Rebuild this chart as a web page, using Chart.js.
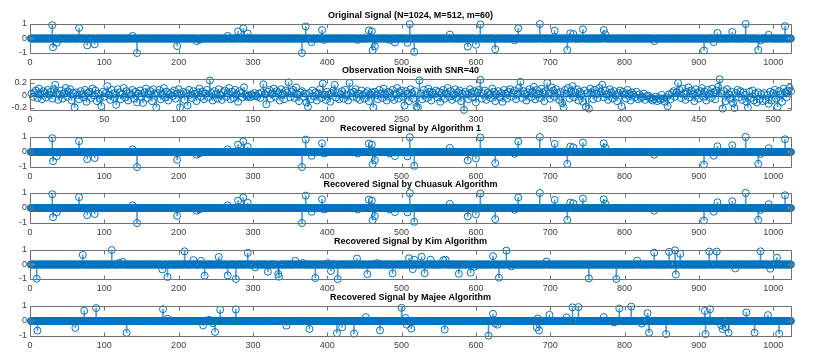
<!DOCTYPE html>
<html>
<head>
<meta charset="utf-8">
<script src="https://cdn.jsdelivr.net/npm/chart.js@4.4.0/dist/chart.umd.min.js"></script>
<style>
    body { margin: 0; background: #fff; }
    #wrap { position: relative; width: 827px; height: 364px; overflow: hidden; }
    #wrap canvas { position: absolute; left: 0; }
</style>
</head>
<body>
<div id="wrap"></div>
<script>
// --- data ---
const signalLength = 1024;
const xTicksSignal = [0, 100, 200, 300, 400, 500, 600, 700, 800, 900, 1000];
const xTicksNoise = [0, 50, 100, 150, 200, 250, 300, 350, 400, 450, 500];
const yTicksSignal = [-1, 0, 1];
const yTicksNoise = [-0.2, 0, 0.2];

const titles = [
    'Original Signal (N=1024, M=512, m=60)',
    'Observation Noise with SNR=40',
    'Recovered Signal by Algorithm 1',
    'Recovered Signal by Chuasuk Algorithm',
    'Recovered Signal by Kim Algorithm',
    'Recovered Signal by Majee Algorithm'
];

// nonzero entries of the sparse signal (index, value)
const origIdx = [30, 31, 36, 66, 77, 87, 138, 144, 198, 224, 228, 266, 280, 287, 293, 366, 371, 379, 393, 396,
    441, 456, 460, 461, 464, 484, 491, 508, 511, 517, 565, 589, 600, 606, 626, 652, 657, 686, 706, 723,
    727, 731, 744, 772, 774, 840, 907, 920, 925, 945, 963, 980, 983, 994, 1016];
const origVal = [0.92, -0.61, -0.29, 0.72, -0.47, -0.40, 0.18, -1.00, -0.52, -0.18, -0.10, 0.18, 0.49, 0.70, 0.34, -1.00, 0.83, -0.25, 0.58, -0.10,
    -0.10, 0.56, 0.49, -0.81, -0.54, -0.10, -0.27, -0.29, 0.99, -0.92, 0.27, -0.56, -0.43, 0.97, -0.74, -0.12, 0.70, 1.00, 0.54, -0.79,
    0.36, 0.31, 0.63, 0.58, 0.29, -0.18, -0.83, -0.25, 0.38, 0.45, 1.00, -0.79, -0.13, 0.25, 0.85];

// Algorithm 1 and Chuasuk look identical to the original in the figure
const alg1Idx = origIdx.slice();
const alg1Val = origVal.slice();
const chuasukIdx = origIdx.slice();
const chuasukVal = origVal.slice();

const kimIdx = [9, 71, 110, 120, 125, 178, 185, 208, 220, 230, 235, 254, 266, 277, 293, 303, 320, 334, 335, 357,
    367, 384, 401, 405, 414, 440, 454, 467, 488, 510, 515, 517, 527, 531, 539, 556, 559, 577, 593, 598,
    623, 631, 641, 648, 695, 752, 789, 817, 840, 860, 868, 869, 875, 914, 924, 949, 983, 996, 1005];
const kimVal = [-0.98, 0.66, 1.00, 0.11, 0.18, -0.34, -0.86, 0.91, 0.30, 0.25, -0.77, 0.52, -0.75, -1.00, 0.80, -0.20, -0.50, -0.66, -0.84, 0.25,
    0.10, -0.93, 0.09, -0.45, -1.00, 0.41, -0.66, 0.09, -0.61, 0.43, -0.32, 0.33, 0.53, -0.60, 0.33, 0.29, 0.33, -0.64, -0.56, -0.15,
    0.58, -0.91, 0.96, -0.13, 0.20, -0.96, -1.00, 0.27, 0.82, 0.87, 0.98, -0.69, 0.73, 0.89, 0.89, -0.27, 0.91, -0.29, 0.47];

const majeeIdx = [10, 61, 73, 89, 130, 179, 185, 233, 241, 246, 249, 256, 277, 345, 376, 413, 420, 436, 452, 471,
    500, 505, 507, 513, 558, 617, 623, 626, 629, 682, 683, 685, 699, 722, 730, 738, 772, 786, 793, 809,
    823, 831, 833, 856, 908, 909, 915, 930, 932, 936, 940, 964, 975, 993, 1008];
const majeeVal = [-0.64, -0.46, 0.68, 0.86, -0.79, 0.79, 0.15, -0.29, 0.08, -0.15, -0.73, 0.75, 0.77, -0.31, -0.53, -0.81, -0.42, -0.84, 0.26, -0.62,
    0.88, 0.20, -0.24, -0.51, -0.57, -0.98, 0.48, -0.15, -0.24, -0.43, 0.17, -0.63, 0.41, 0.24, 0.91, 0.93, 0.26, -0.10, 0.83, 0.96,
    -0.17, 0.52, -0.78, -0.87, 0.67, -0.87, 0.78, -0.28, -0.54, -0.41, -0.78, 0.57, -0.78, 0.39, -0.85];

// observation noise, 512 samples
const noiseVal = [
    0.03,-0.02,0.05,0.08,-0.04,0.11,0.02,-0.06,0.07,0.04,-0.03,0.09,0.01,0.06,-0.05,0.10,
    0.17,0.04,-0.07,0.02,0.08,-0.05,0.03,0.12,-0.02,0.06,0.10,-0.08,0.04,-0.19,0.05,0.01,
    -0.06,0.07,0.02,-0.03,0.09,-0.10,0.04,0.06,-0.04,0.11,0.00,0.08,-0.09,0.03,-0.05,-0.17,
    0.06,-0.02,0.04,0.15,0.01,-0.07,0.09,0.03,-0.04,-0.15,0.10,0.05,-0.06,0.02,0.12,-0.03,
    0.07,-0.08,0.04,0.01,0.09,-0.05,0.06,-0.11,0.03,0.08,-0.02,-0.12,0.05,0.11,-0.04,0.02,
    0.07,-0.09,0.10,0.03,-0.19,0.04,0.09,-0.06,0.01,0.12,-0.03,0.06,-0.08,0.02,0.05,-0.01,
    0.08,-0.05,0.03,0.10,-0.19,0.02,0.06,-0.07,0.04,-0.16,0.09,0.01,-0.04,0.07,0.03,-0.09,
    0.05,0.11,-0.02,0.06,-0.06,0.03,0.09,-0.03,0.24,0.04,-0.08,0.07,0.02,-0.05,0.10,0.01,
    -0.07,0.05,0.08,-0.02,0.03,0.12,-0.06,0.06,-0.04,0.09,0.02,-0.10,0.07,0.04,-0.03,0.13,
    0.01,-0.02,0.00,-0.03,0.02,-0.01,0.04,0.00,-0.02,0.03,-0.04,0.05,0.18,0.02,-0.14,0.06,
    0.09,-0.05,0.03,0.11,-0.02,0.07,0.04,-0.08,0.10,0.02,-0.06,0.08,0.05,0.21,-0.03,0.06,
    0.09,-0.04,0.13,0.02,-0.09,0.05,0.07,-0.02,0.03,-0.11,-0.18,0.04,-0.06,0.08,-0.01,0.05,
    -0.08,0.03,0.10,-0.04,0.19,0.01,-0.07,0.06,0.02,-0.10,0.04,0.08,0.17,-0.03,0.05,-0.06,
    0.02,0.07,-0.05,0.09,0.01,-0.08,0.20,0.04,-0.02,0.06,0.10,-0.04,0.03,-0.07,0.08,0.01,
    -0.05,0.04,0.07,-0.09,0.02,0.05,-0.19,0.06,0.01,-0.06,0.09,0.03,-0.04,0.11,0.02,-0.08,
    0.06,0.04,-0.03,0.09,-0.07,0.02,0.12,-0.05,0.05,0.08,-0.02,-0.16,0.07,0.03,-0.09,0.10,
    0.04,-0.05,0.07,-0.18,-0.19,0.24,0.03,-0.06,0.09,0.01,-0.04,0.11,0.06,-0.08,0.05,0.02,
    0.08,-0.03,0.06,-0.10,0.04,0.09,-0.05,0.03,0.12,-0.02,0.07,-0.07,0.01,0.10,-0.04,0.05,
    0.08,-0.09,0.03,-0.23,0.06,0.02,-0.06,0.10,0.04,-0.03,0.07,-0.11,0.05,0.09,0.25,-0.05,
    0.03,0.08,-0.07,0.05,0.01,-0.04,0.11,0.06,-0.09,0.02,0.07,-0.03,0.04,-0.10,0.09,0.03,
    -0.05,0.06,0.10,-0.02,0.04,0.08,-0.06,0.02,0.12,0.22,-0.04,0.07,0.03,-0.08,0.05,0.10,
    -0.03,0.06,0.14,-0.06,0.09,0.02,-0.04,0.11,0.05,-0.09,0.07,0.20,0.03,-0.05,0.13,0.08,
    -0.02,0.10,0.04,-0.07,0.06,-0.12,-0.19,0.09,0.03,0.12,-0.05,0.07,0.15,-0.03,0.05,0.10,
    -0.08,0.06,0.02,-0.10,0.08,-0.18,0.04,-0.21,0.11,0.05,-0.06,0.09,0.03,-0.04,0.12,0.06,
    0.17,-0.03,0.08,0.02,-0.07,0.10,0.05,-0.05,0.07,0.01,-0.09,0.04,0.08,-0.17,0.06,0.02,
    -0.05,0.09,0.03,-0.08,0.05,0.01,-0.03,0.06,-0.06,0.02,-0.04,-0.02,0.03,-0.07,-0.01,0.00,
    -0.05,-0.03,-0.08,-0.06,-0.02,-0.09,-0.04,-0.07,0.01,-0.05,-0.10,-0.03,-0.17,0.02,-0.06,0.04,
    0.07,-0.02,0.05,0.20,0.09,-0.04,0.11,0.03,-0.07,0.06,0.13,-0.03,0.08,0.02,-0.09,0.10,
    0.04,-0.05,0.07,0.12,-0.02,0.06,-0.08,0.09,0.03,-0.04,0.11,0.05,-0.06,0.08,0.14,0.26,
    0.03,-0.21,0.07,-0.09,0.10,0.02,-0.05,0.06,-0.12,-0.20,0.04,0.09,-0.03,0.07,-0.07,0.05,
    0.01,-0.10,-0.19,0.06,-0.04,0.08,-0.08,0.03,-0.11,0.05,-0.06,0.02,-0.09,0.04,-0.07,0.01,
    -0.13,0.06,-0.08,0.04,0.09,-0.05,-0.18,0.07,0.02,-0.10,0.11,0.05,-0.03,0.08,0.12,0.07
];

// --- drawing ---
const BLUE = '#0072BD';
const STEM = 'rgba(0, 114, 189, 0.7)';
const FONT = "'Liberation Sans', Arial, Helvetica, sans-serif";
const TITLE_H = 18;
const XAXIS_H = 16;

// plot-area top and height for each subplot (pixels)
const panelTop = [24, 79, 137, 193, 250, 306];
const panelHeight = [29, 31, 30, 30, 29, 30];

// build a dense series from sparse (index, value) pairs
function denseSignal(idx, val) {
    const y = new Array(signalLength).fill(0);
    idx.forEach((k, i) => { y[k - 1] = val[i]; });
    return y;
}

const panels = [
    { values: denseSignal(origIdx, origVal), xMax: 1024, xTicks: xTicksSignal, yMin: -1, yMax: 1, yTicks: yTicksSignal },
    { values: noiseVal, xMax: 512, xTicks: xTicksNoise, yMin: -0.232, yMax: 0.264, yTicks: yTicksNoise },
    { values: denseSignal(alg1Idx, alg1Val), xMax: 1024, xTicks: xTicksSignal, yMin: -1, yMax: 1, yTicks: yTicksSignal },
    { values: denseSignal(chuasukIdx, chuasukVal), xMax: 1024, xTicks: xTicksSignal, yMin: -1, yMax: 1, yTicks: yTicksSignal },
    { values: denseSignal(kimIdx, kimVal), xMax: 1024, xTicks: xTicksSignal, yMin: -1, yMax: 1, yTicks: yTicksSignal },
    { values: denseSignal(majeeIdx, majeeVal), xMax: 1024, xTicks: xTicksSignal, yMin: -1, yMax: 1, yTicks: yTicksSignal }
];

// MATLAB-like box with inward ticks, plus the stem baseline
const matlabAxes = {
    id: 'matlabAxes',
    beforeDatasetsDraw(chart) {
        const { ctx, chartArea: a, scales: { y } } = chart;
        const y0 = Math.round(y.getPixelForValue(0)) + 0.5;
        ctx.save();
        ctx.strokeStyle = BLUE;
        ctx.lineWidth = 1;
        ctx.beginPath();
        ctx.moveTo(a.left, y0);
        ctx.lineTo(a.right, y0);
        ctx.stroke();
        ctx.restore();
    },
    afterDraw(chart) {
        const { ctx, chartArea: a, scales: { x, y } } = chart;
        const L = Math.round(a.left) + 0.5, R = Math.round(a.right) + 0.5;
        const T = Math.round(a.top) + 0.5, B = Math.round(a.bottom) + 0.5;
        const tl = 4;
        ctx.save();
        ctx.strokeStyle = '#707070';
        ctx.lineWidth = 1;
        ctx.beginPath();
        ctx.rect(L, T, R - L, B - T);
        x.ticks.forEach(t => {
            const px = Math.round(x.getPixelForValue(t.value)) + 0.5;
            ctx.moveTo(px, B); ctx.lineTo(px, B - tl);
            ctx.moveTo(px, T); ctx.lineTo(px, T + tl);
        });
        y.ticks.forEach(t => {
            const py = Math.round(y.getPixelForValue(t.value)) + 0.5;
            ctx.moveTo(L, py); ctx.lineTo(L + tl, py);
            ctx.moveTo(R, py); ctx.lineTo(R - tl, py);
        });
        ctx.stroke();
        ctx.restore();
    }
};

const wrap = document.getElementById('wrap');

panels.forEach((p, n) => {
    const canvas = document.createElement('canvas');
    canvas.width = 827;
    canvas.height = TITLE_H + panelHeight[n] + XAXIS_H;
    canvas.style.top = (panelTop[n] - TITLE_H) + 'px';
    wrap.appendChild(canvas);

    const points = p.values.map((v, i) => ({ x: i + 1, y: v }));
    const stems = points.filter(pt => pt.y !== 0);

    const tickFont = { family: FONT, size: 9 };

    new Chart(canvas.getContext('2d'), {
        type: 'scatter',
        data: {
            datasets: [
                {
                    type: 'scatter',
                    data: points,
                    pointStyle: 'circle',
                    pointRadius: 3.5,
                    borderWidth: 1,
                    borderColor: BLUE,
                    backgroundColor: 'rgba(0,0,0,0)',
                    clip: false
                },
                {
                    type: 'bar',
                    data: stems,
                    barThickness: 1,
                    backgroundColor: STEM
                }
            ]
        },
        options: {
            responsive: false,
            animation: false,
            events: [],
            layout: { padding: { left: 0, right: 36, top: 0, bottom: 0 } },
            plugins: {
                legend: { display: false },
                tooltip: { enabled: false },
                title: {
                    display: true,
                    text: titles[n],
                    fullSize: false,
                    color: '#000',
                    font: { family: FONT, size: 9, weight: 'bold', lineHeight: '11px' },
                    padding: { top: 4, bottom: 3 }
                }
            },
            scales: {
                x: {
                    type: 'linear',
                    min: 0,
                    max: p.xMax,
                    offset: false,
                    grid: { display: false, drawTicks: false, offset: false },
                    border: { display: false },
                    ticks: { font: tickFont, color: '#404040', padding: 4, maxRotation: 0, autoSkip: false,
                             callback: v => String(v) },
                    afterBuildTicks: s => { s.ticks = p.xTicks.map(v => ({ value: v })); },
                    afterFit: s => { s.height = XAXIS_H; }
                },
                y: {
                    type: 'linear',
                    min: p.yMin,
                    max: p.yMax,
                    grid: { display: false, drawTicks: false },
                    border: { display: false },
                    ticks: { font: tickFont, color: '#404040', padding: 3, autoSkip: false,
                             callback: v => String(v) },
                    afterBuildTicks: s => { s.ticks = p.yTicks.map(v => ({ value: v })); },
                    afterFit: s => { s.width = 30; }
                }
            }
        },
        plugins: [matlabAxes]
    });
});
</script>
</body>
</html>
